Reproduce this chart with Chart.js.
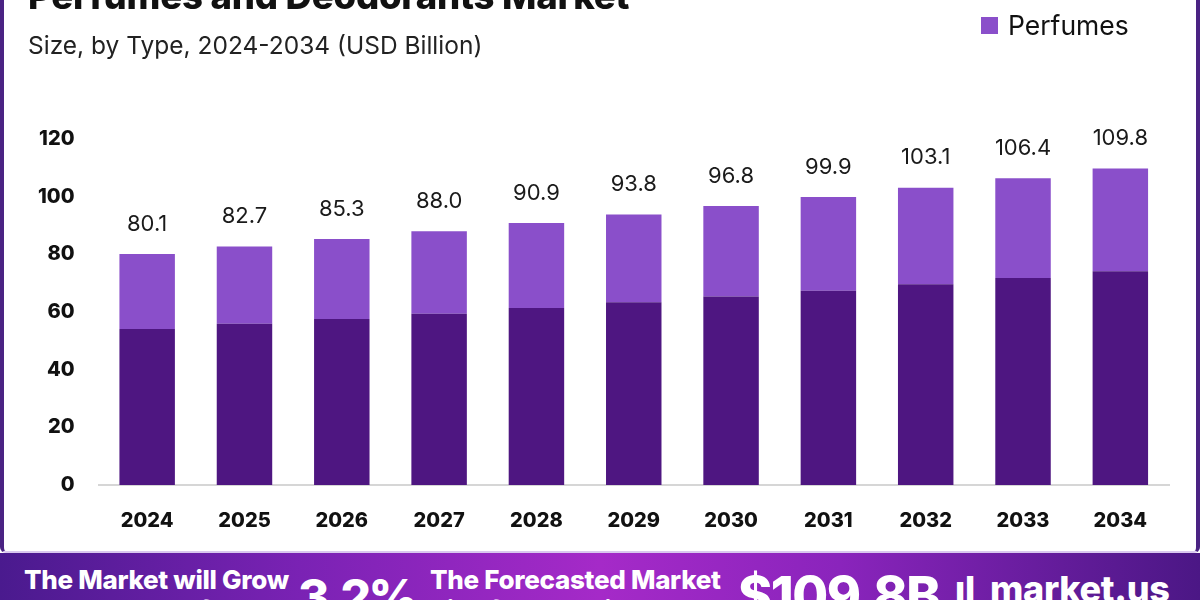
<!DOCTYPE html>
<html>
<head>
<meta charset="utf-8">
<script src="https://cdn.jsdelivr.net/npm/chart.js@4.4.1/dist/chart.umd.min.js"></script>
<style>
  html, body { margin: 0; padding: 0; }
  body { width: 1200px; height: 600px; overflow: hidden; position: relative; background: #fff; font-family: Inter, "Open Sans", sans-serif; }
  #card { position: absolute; left: 0; top: 0; width: 1200px; height: 553px; box-sizing: border-box;
    border-left: 4px solid #4a2383; border-right: 4px solid #4a2383; border-bottom: 2px solid #d9c8ee; border-radius: 0 0 6px 6px; background: #fff; overflow: hidden; }
  #chartBox { position: absolute; left: 0; top: 0; width: 1200px; height: 560px; }
  .title { position: absolute; left: 24px; top: -26px; font-size: 36.5px; font-weight: 800; color: #111; white-space: nowrap; letter-spacing: -0.2px; }
  .subtitle { position: absolute; left: 24px; top: 30px; font-size: 24.5px; color: #222; white-space: nowrap; }
  .legend { position: absolute; left: 977px; font-size: 26.5px; color: #111; white-space: nowrap; display: flex; align-items: center; }
  .legend span.sw { display: inline-block; width: 17px; height: 17px; margin-right: 10px; }
  #banner { position: absolute; left: 0; top: 553px; width: 1200px; height: 47px; overflow: hidden;
    background: linear-gradient(90deg, #4a1a8e 0%, #7a22b4 25%, #a52ac8 50%, #8a24bc 70%, #4b1785 100%); color: #fff; }
  .b { position: absolute; white-space: nowrap; font-weight: 800; color: #fff; }
</style>
</head>
<body>
<div id="card">
  <div id="chartBox"><canvas id="marketChart"></canvas></div>
  <div class="title">Perfumes and Deodorants Market</div>
  <div class="subtitle">Size, by Type, 2024-2034 (USD Billion)</div>
  <div class="legend" style="top:-30px"><span class="sw" style="background:#4e1681"></span>Deodorants</div>
  <div class="legend" style="top:9px"><span class="sw" style="background:#8a4fca"></span>Perfumes</div>
</div>
<div id="banner">
  <div class="b" style="left:24px; top:12px; font-size:26px; line-height:30px; letter-spacing:-0.3px;">The Market will Grow<br>At the CAGR of:</div>
  <div class="b" style="left:298px; top:16px; font-size:48px; line-height:56px; letter-spacing:-2.5px;">3.2%</div>
  <div class="b" style="left:430px; top:12px; font-size:26px; line-height:30px; letter-spacing:-0.3px;">The Forecasted Market<br>Size for 2034 in USD:</div>
  <div class="b" style="left:738px; top:15px; font-size:52px; line-height:56px; letter-spacing:-1.5px;">$109.8B</div>
  <div class="b" style="left:955px; top:16px; font-size:36px; line-height:40px; letter-spacing:-0.3px;">ıl&nbsp;&nbsp;market.us</div>
</div>
<script>
// Perfumes and Deodorants market size by type (USD Billion)
const years = ['2024', '2025', '2026', '2027', '2028', '2029', '2030', '2031', '2032', '2033', '2034'];
const deodorants = [54.1, 55.9, 57.6, 59.4, 61.4, 63.4, 65.4, 67.4, 69.6, 71.8, 74.1];
const perfumes = [26.0, 26.8, 27.7, 28.6, 29.5, 30.4, 31.4, 32.5, 33.5, 34.6, 35.7];
const totals = [80.1, 82.7, 85.3, 88.0, 90.9, 93.8, 96.8, 99.9, 103.1, 106.4, 109.8];
const yTicks = [0, 20, 40, 60, 80, 100, 120];

// Draw total values above each stacked bar
const totalLabels = {
  id: 'totalLabels',
  afterDatasetsDraw(chart) {
    const ctx = chart.ctx;
    const xScale = chart.scales.x;
    const yScale = chart.scales.y;
    ctx.save();
    ctx.font = '400 22px Inter, "Open Sans", sans-serif';
    ctx.fillStyle = '#1a1a1a';
    ctx.textAlign = 'center';
    ctx.textBaseline = 'bottom';
    totals.forEach((value, i) => {
      const x = xScale.getPixelForValue(i);
      const y = yScale.getPixelForValue(value);
      ctx.fillText(value.toFixed(1), x, y - 19);
    });
    ctx.restore();
  }
};

const ctx = document.getElementById('marketChart');
new Chart(ctx, {
  type: 'bar',
  data: {
    labels: years,
    datasets: [
      {
        label: 'Deodorants',
        data: deodorants,
        backgroundColor: '#4e1681',
        barPercentage: 0.57,
        categoryPercentage: 1.0
      },
      {
        label: 'Perfumes',
        data: perfumes,
        backgroundColor: '#8a4fca',
        barPercentage: 0.57,
        categoryPercentage: 1.0
      }
    ]
  },
  options: {
    responsive: true,
    maintainAspectRatio: false,
    animation: false,
    layout: {
      padding: { left: 10, right: 35, top: 139, bottom: 3 }
    },
    plugins: {
      legend: { display: false },
      tooltip: { enabled: false }
    },
    scales: {
      x: {
        stacked: true,
        grid: { display: false, drawTicks: false },
        border: { display: true, color: '#d6d6d6', width: 2 },
        ticks: {
          color: '#111',
          padding: 24,
          font: { family: 'Inter, "Open Sans", sans-serif', size: 20, weight: '800' }
        }
      },
      y: {
        stacked: true,
        min: 0,
        max: 120,
        afterBuildTicks: axis => { axis.ticks = yTicks.map(v => ({ value: v })); },
        grid: { display: false, drawTicks: false },
        border: { display: false },
        ticks: {
          color: '#111',
          padding: 24,
          font: { family: 'Inter, "Open Sans", sans-serif', size: 20, weight: '800' }
        }
      }
    }
  },
  plugins: [totalLabels]
});
</script>
</body>
</html>
